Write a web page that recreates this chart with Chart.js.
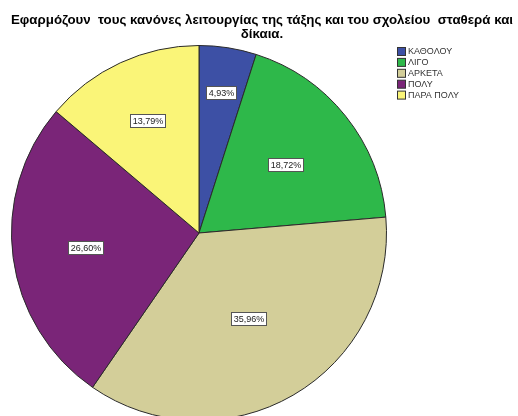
<!DOCTYPE html>
<html>
<head>
<meta charset="utf-8">
<script src="https://cdn.jsdelivr.net/npm/chart.js@4.4.1/dist/chart.umd.min.js"></script>
<style>
  html, body { margin: 0; padding: 0; background: #fff; overflow: hidden; }
  #wrap { width: 518px; height: 430px; }
</style>
</head>
<body>
<div id="wrap"><canvas id="pie" width="518" height="430"></canvas></div>
<script>
// chart data
const titleLines = ['Εφαρμόζουν  τους κανόνες λειτουργίας της τάξης και του σχολείου  σταθερά και', 'δίκαια.'];
const categories = ['ΚΑΘΟΛΟΥ', 'ΛΙΓΟ', 'ΑΡΚΕΤΑ', 'ΠΟΛΥ', 'ΠΑΡΑ ΠΟΛΥ'];
const percents = [4.93, 18.72, 35.96, 26.60, 13.79];

// look
const sliceColors = ['#3D50A5', '#2EB84A', '#D3CE99', '#7A2578', '#FAF578'];
const labelRadius = [0.76, 0.59, 0.53, 0.61, 0.66];  // where each % box sits (fraction of radius)

// draws title, legend and the percent boxes on the canvas
const extrasPlugin = {
  id: 'extras',
  afterDraw(chart) {
    const ctx = chart.ctx;
    ctx.save();

    // title
    ctx.fillStyle = '#000';
    ctx.font = 'bold 13.3px "Liberation Sans", Arial, sans-serif';
    ctx.textAlign = 'center';
    ctx.textBaseline = 'alphabetic';
    ctx.fillText(titleLines[0], 262, 24);
    ctx.fillText(titleLines[1], 262, 38);

    // legend
    ctx.font = '9px "Liberation Sans", Arial, sans-serif';
    ctx.textAlign = 'left';
    ctx.textBaseline = 'middle';
    categories.forEach(function (name, i) {
      const y = 52 + i * 10.9;
      ctx.fillStyle = sliceColors[i];
      ctx.fillRect(397.5, y - 4.5, 8, 8);
      ctx.strokeStyle = '#333';
      ctx.lineWidth = 1;
      ctx.strokeRect(397.5, y - 4.5, 8, 8);
      ctx.fillStyle = '#333';
      ctx.fillText(name, 408, y);
    });

    // percent boxes
    const arcs = chart.getDatasetMeta(0).data;
    ctx.font = '9px "Liberation Sans", Arial, sans-serif';
    ctx.textAlign = 'center';
    arcs.forEach(function (arc, i) {
      const mid = (arc.startAngle + arc.endAngle) / 2;
      const r = arc.outerRadius * labelRadius[i];
      const cx = arc.x + Math.cos(mid) * r;
      const cy = arc.y + Math.sin(mid) * r;
      const text = percents[i].toFixed(2).replace('.', ',') + '%';
      const w = Math.round(ctx.measureText(text).width) + 4;
      const h = 13;
      const bx = Math.round(cx - w / 2) + 0.5;
      const by = Math.round(cy - h / 2) + 0.5;
      ctx.fillStyle = '#fff';
      ctx.fillRect(bx, by, w, h);
      ctx.strokeStyle = '#555';
      ctx.lineWidth = 1;
      ctx.strokeRect(bx, by, w, h);
      ctx.fillStyle = '#222';
      ctx.fillText(text, bx + w / 2, by + h / 2 + 0.5);
    });

    ctx.restore();
  }
};

const chart = new Chart(document.getElementById('pie').getContext('2d'), {
  type: 'pie',
  data: {
    labels: categories,
    datasets: [{
      data: percents,
      backgroundColor: sliceColors,
      borderColor: '#2a2a2a',
      borderWidth: 1
    }]
  },
  options: {
    responsive: false,
    animation: false,
    layout: { padding: { top: 45, left: 10, right: 130, bottom: 9 } },
    plugins: {
      legend: { display: false },
      title: { display: false },
      tooltip: { enabled: false }
    }
  },
  plugins: [extrasPlugin]
});
</script>
</body>
</html>
